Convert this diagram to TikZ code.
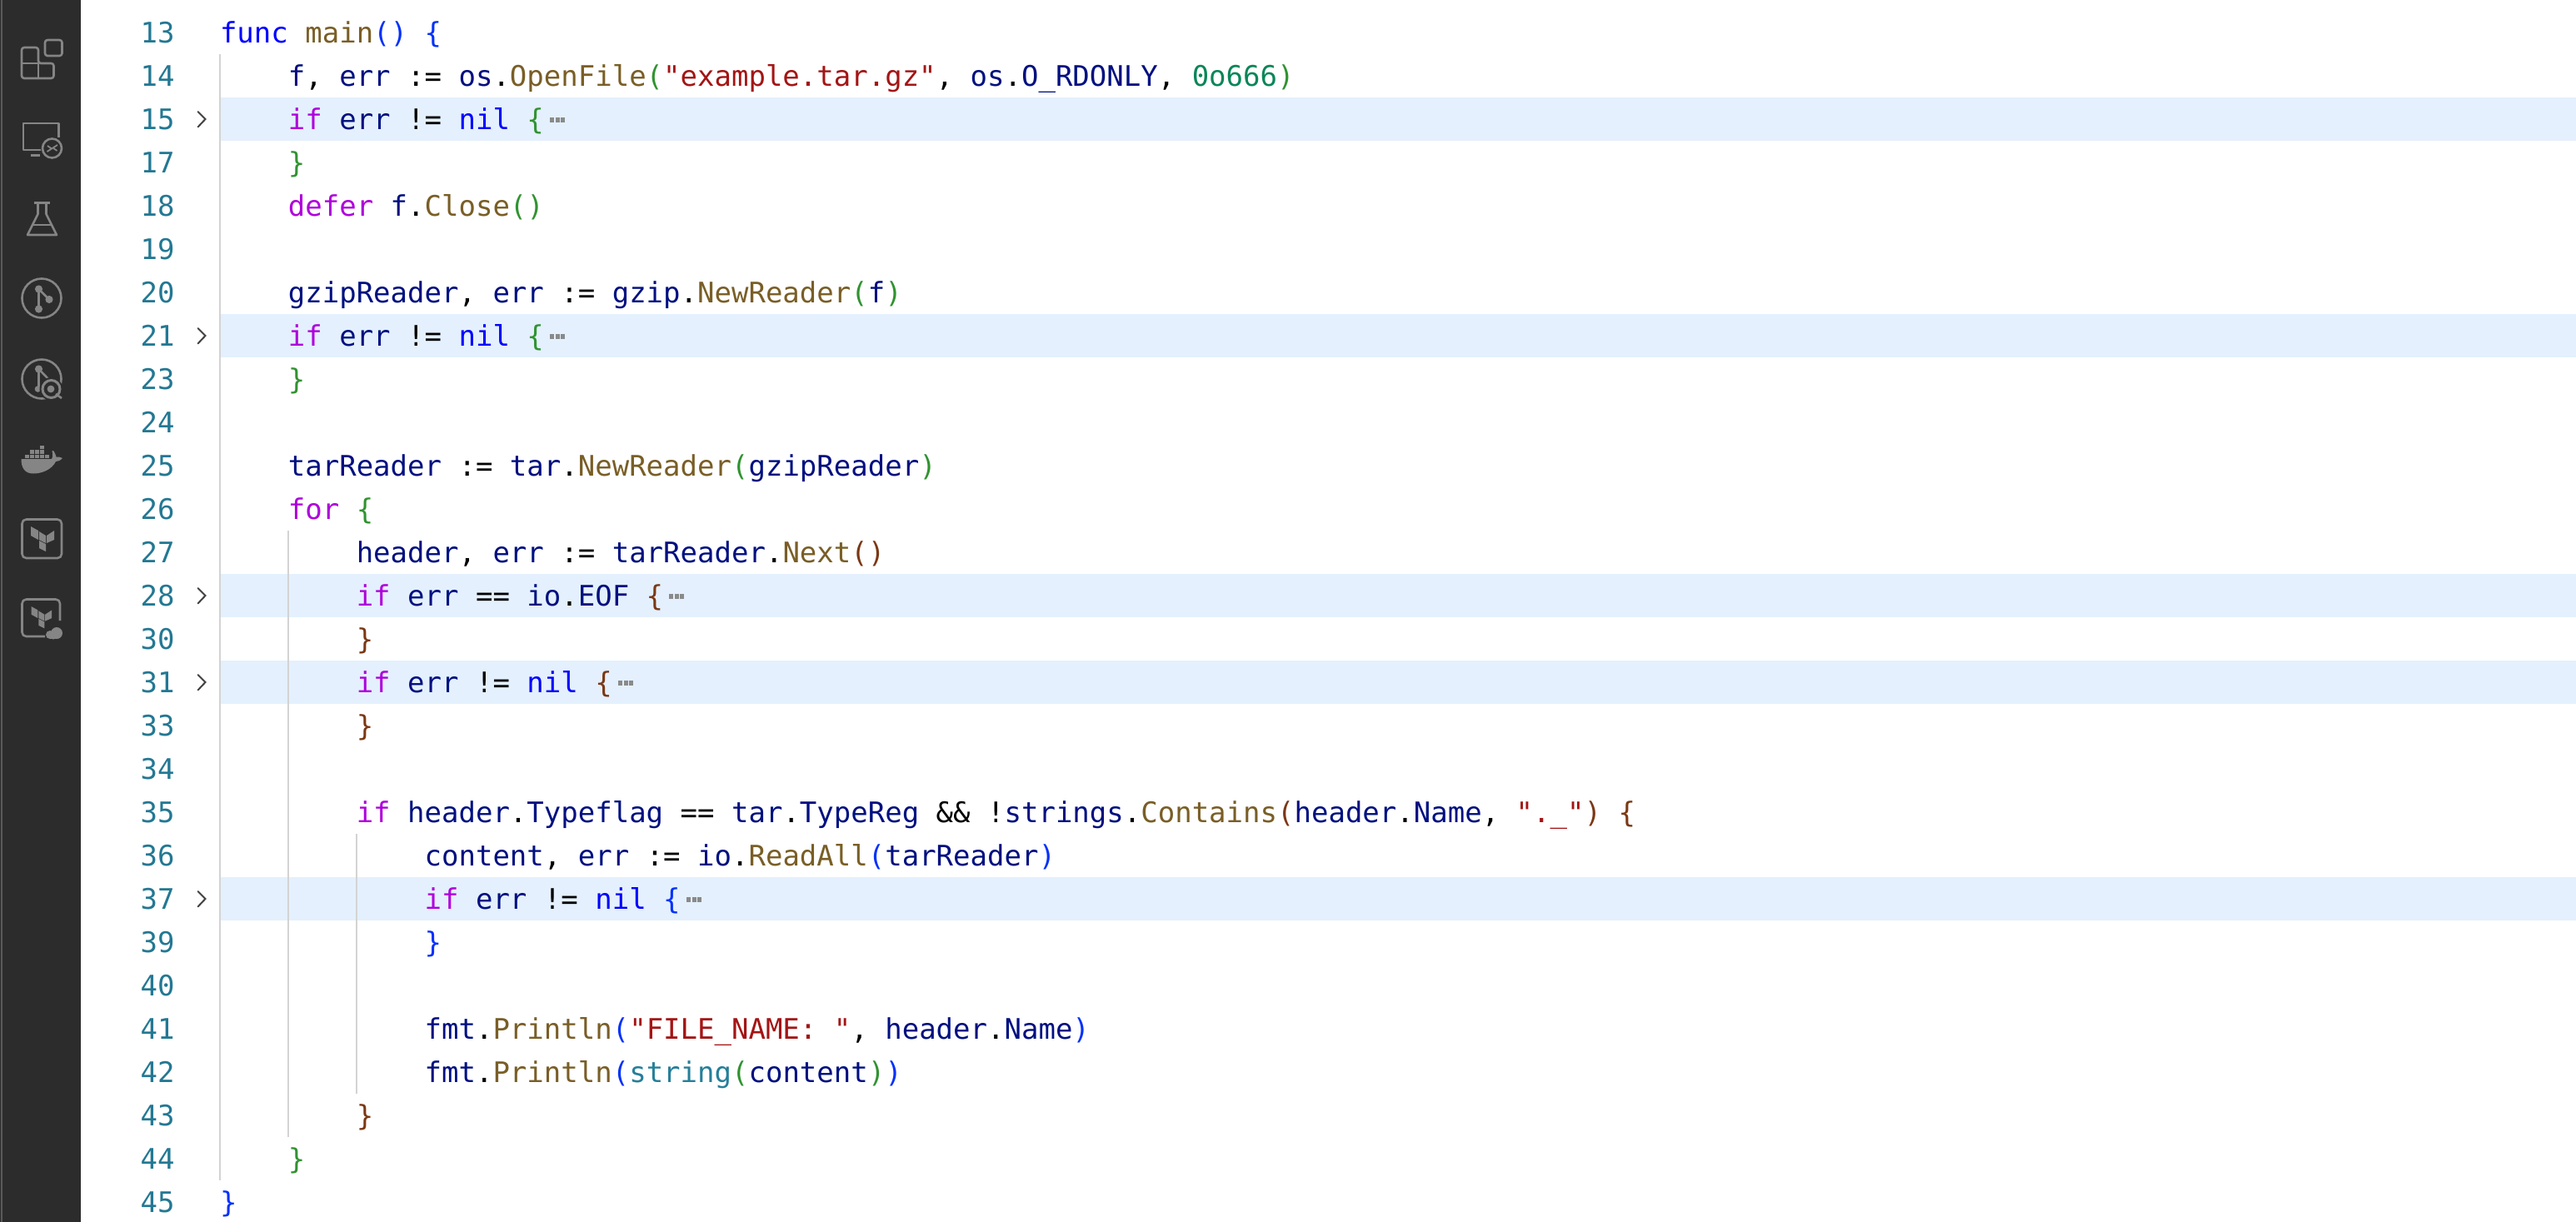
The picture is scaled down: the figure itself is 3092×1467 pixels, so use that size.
\documentclass[tikz,border=0pt]{standalone}
\usepackage{fontspec}
\newfontfamily\codefont{DejaVu Sans Mono}
\definecolor{kwblue}{HTML}{0000FF}
\definecolor{idc}{HTML}{001080}
\definecolor{fnc}{HTML}{795E26}
\definecolor{ctl}{HTML}{AF00DB}
\definecolor{strc}{HTML}{A31515}
\definecolor{numc}{HTML}{098658}
\definecolor{brA}{HTML}{0431FA}
\definecolor{brB}{HTML}{319331}
\definecolor{brC}{HTML}{7B3814}
\definecolor{typc}{HTML}{267F99}
\definecolor{gut}{HTML}{237893}
\definecolor{hl}{HTML}{E4F0FD}
\definecolor{guide}{HTML}{D3D3D3}
\definecolor{barc}{HTML}{2C2C2C}
\definecolor{stripc}{HTML}{5A5A5A}
\definecolor{iconc}{HTML}{858585}
\definecolor{chev}{HTML}{424242}
\definecolor{foldc}{HTML}{8A8A8A}
\newcommand{\Kw}[1]{\textcolor{kwblue}{#1}}
\newcommand{\Id}[1]{\textcolor{idc}{#1}}
\newcommand{\Fn}[1]{\textcolor{fnc}{#1}}
\newcommand{\Ct}[1]{\textcolor{ctl}{#1}}
\newcommand{\St}[1]{\textcolor{strc}{#1}}
\newcommand{\Nm}[1]{\textcolor{numc}{#1}}
\newcommand{\BA}[1]{\textcolor{brA}{#1}}
\newcommand{\BB}[1]{\textcolor{brB}{#1}}
\newcommand{\BC}[1]{\textcolor{brC}{#1}}
\newcommand{\Ty}[1]{\textcolor{typc}{#1}}
\newcommand{\codeline}[4]{% name, row, col, text
  \pgfmathsetmacro{\cx}{264+20.47*#3}\pgfmathsetmacro{\cy}{51+52*#2}
  \node[codetext] (c#1) at (\cx,\cy) {#4};
  \node[numtext] (n#1) at (209.5,\cy) {#1};}
\newcommand{\hlrow}[1]{\fill[hl] (264,13+52*#1) rectangle (3092,65+52*#1);}
\newcommand{\foldrow}[2]{% row index, x of fold mark
  \draw[chevline] (237.5,134+52*#1-104) -- (246.5,143+52*#1-104) -- (237.5,152.5+52*#1-104);
  \fill[foldc] (#2,141+52*#1-104) rectangle +(5,6);
  \fill[foldc] (#2+6.5,141+52*#1-104) rectangle +(5,6);
  \fill[foldc] (#2+13,141+52*#1-104) rectangle +(5,6);}
\newcommand{\tflogo}[3]{% x, y, scale
  \begin{scope}[shift={(#1,#2)},scale=#3]
  \fill[iconc] (0,0) -- (9,5) -- (9,16) -- (0,11) -- cycle;
  \fill[iconc] (10,6) -- (18,11) -- (18,20) -- (10,16) -- cycle;
  \fill[iconc] (19,11) -- (28,5) -- (28,16) -- (19,20) -- cycle;
  \fill[iconc] (10,17) -- (18,21) -- (18,30) -- (10,26) -- cycle;
  \end{scope}}
\tikzset{
  codetext/.style={anchor=base west,inner sep=0pt,outer sep=0pt,text=black,font=\codefont\fontsize{34}{40}\selectfont},
  numtext/.style={anchor=base east,inner sep=0pt,outer sep=0pt,text=gut,font=\codefont\fontsize{34}{40}\selectfont},
  guideline/.style={guide,line width=2pt},
  chevline/.style={chev,line width=2pt,line cap=round,line join=miter},
  iconline/.style={iconc,line width=2.6pt,line join=round},
}
\begin{document}
\begin{tikzpicture}[x=1pt,y=-1pt]
\useasboundingbox (0,0) rectangle (3092,1467);
\fill[white] (0,0) rectangle (3092,1467);
% sidebar
\fill[barc] (0,0) rectangle (97,1467);
\fill[stripc] (1,0) rectangle (2.8,1467);
% highlighted rows
\hlrow{2}\hlrow{7}\hlrow{13}\hlrow{15}\hlrow{20}
% indent guides
\draw[guideline] (264,65) -- (264,1417);
\draw[guideline] (346,637) -- (346,1365);
\draw[guideline] (428,1001) -- (428,1313);
% code
\codeline{13}{0}{0}{\Kw{func} \Fn{main}\BA{()} \BA{\{}}
\codeline{14}{1}{4}{\Id{f}, \Id{err} := \Id{os}.\Fn{OpenFile}\BB{(}\St{"example.tar.gz"}, \Id{os}.\Id{O\_RDONLY}, \Nm{0o666}\BB{)}}
\codeline{15}{2}{4}{\Ct{if} \Id{err} != \Kw{nil} \BB{\{}}
\codeline{17}{3}{4}{\BB{\}}}
\codeline{18}{4}{4}{\Ct{defer} \Id{f}.\Fn{Close}\BB{()}}
\codeline{19}{5}{4}{}
\codeline{20}{6}{4}{\Id{gzipReader}, \Id{err} := \Id{gzip}.\Fn{NewReader}\BB{(}\Id{f}\BB{)}}
\codeline{21}{7}{4}{\Ct{if} \Id{err} != \Kw{nil} \BB{\{}}
\codeline{23}{8}{4}{\BB{\}}}
\codeline{24}{9}{4}{}
\codeline{25}{10}{4}{\Id{tarReader} := \Id{tar}.\Fn{NewReader}\BB{(}\Id{gzipReader}\BB{)}}
\codeline{26}{11}{4}{\Ct{for} \BB{\{}}
\codeline{27}{12}{8}{\Id{header}, \Id{err} := \Id{tarReader}.\Fn{Next}\BC{()}}
\codeline{28}{13}{8}{\Ct{if} \Id{err} == \Id{io}.\Id{EOF} \BC{\{}}
\codeline{30}{14}{8}{\BC{\}}}
\codeline{31}{15}{8}{\Ct{if} \Id{err} != \Kw{nil} \BC{\{}}
\codeline{33}{16}{8}{\BC{\}}}
\codeline{34}{17}{8}{}
\codeline{35}{18}{8}{\Ct{if} \Id{header}.\Id{Typeflag} == \Id{tar}.\Id{TypeReg} \&\& !\Id{strings}.\Fn{Contains}\BC{(}\Id{header}.\Id{Name}, \St{".\_"}\BC{)} \BC{\{}}
\codeline{36}{19}{12}{\Id{content}, \Id{err} := \Id{io}.\Fn{ReadAll}\BA{(}\Id{tarReader}\BA{)}}
\codeline{37}{20}{12}{\Ct{if} \Id{err} != \Kw{nil} \BA{\{}}
\codeline{39}{21}{12}{\BA{\}}}
\codeline{40}{22}{12}{}
\codeline{41}{23}{12}{\Id{fmt}.\Fn{Println}\BA{(}\St{"FILE\_NAME: "}, \Id{header}.\Id{Name}\BA{)}}
\codeline{42}{24}{12}{\Id{fmt}.\Fn{Println}\BA{(}\Ty{string}\BB{(}\Id{content}\BB{)}\BA{)}}
\codeline{43}{25}{8}{\BC{\}}}
\codeline{44}{26}{4}{\BB{\}}}
\codeline{45}{27}{0}{\BA{\}}}
% fold chevrons and markers
\foldrow{2}{660}\foldrow{7}{660}\foldrow{13}{803}\foldrow{15}{742}\foldrow{20}{824}
% icon 1: extensions
\draw[iconline,rounded corners=3pt] (54,48) rectangle (74.5,67);
\draw[iconline,rounded corners=3pt] (26,57) -- (46,57) -- (46,76) -- (64.5,76) -- (64.5,94) -- (26,94) -- cycle;
\draw[iconline] (26,76) -- (46,76) -- (46,94);
% icon 2: remote
\draw[iconline] (70.5,165) -- (70.5,148) -- (28,148) -- (28,180) -- (50,180);
\draw[iconline] (37,186.5) -- (48,186.5);
\fill[barc] (62.5,178) circle (13.5);
\draw[iconline] (62.5,178) circle (11.5);
\draw[iconc,line width=1.8pt] (57,175) -- (62,178.5) -- (56.5,182);
\draw[iconc,line width=1.8pt] (69,174) -- (63.5,177.5) -- (68.5,181);
% icon 3: flask
\draw[iconline] (41,243.5) -- (59.5,243.5);
\draw[iconline] (45.5,243.5) -- (45.5,257) -- (33,282) -- (68,282) -- (55.5,257) -- (55.5,243.5);
\draw[iconline] (38.5,270) -- (62.5,270);
% icon 4: branch graph
\draw[iconline] (50,358) circle (23.5);
\draw[iconline] (46.5,347) -- (46.5,371);
\draw[iconline] (46.5,347) -- (59,359.5);
\fill[iconc] (46.5,347) circle (4.6) (59,359.5) circle (4.6) (46.5,371) circle (4.6);
% icon 5: branch with magnifier
\draw[iconline] (50,455) circle (23.5);
\draw[iconline] (46.5,443) -- (46.5,467);
\draw[iconline] (46.5,443) -- (60,457);
\fill[iconc] (46.5,443) circle (4.6) (45.5,467) circle (3.8);
\fill[barc] (61.5,467) circle (14);
\draw[iconc,line width=3pt] (61.5,467) circle (10.5);
\fill[iconc] (61,467) circle (4.4);
\draw[iconc,line width=2.6pt] (67,473) -- (74,478);
% icon 6: docker
\fill[iconc] (25.5,551) -- (62,551) .. controls (64,548) and (63,544) .. (62.5,541) -- (64,541) .. controls (65,542) and (67,546) .. (67.5,548.5) .. controls (70,548) and (72,548.5) .. (75,550) .. controls (72,553) and (70,554) .. (67,554) .. controls (62,564) and (50,568.5) .. (40,568.5) .. controls (30,568.5) and (25.5,562) .. (25.5,551) -- cycle;
\foreach \bx in {30,36,42,48,54} \fill[iconc] (\bx,545.5) rectangle +(5,4.6);
\foreach \bx in {36,42,48} \fill[iconc] (\bx,540) rectangle +(5,4.6);
\fill[iconc] (48,534.5) rectangle +(5,4.6);
% icon 7: terraform
\draw[iconline,rounded corners=5pt] (26.5,623.5) rectangle (74,670);
\tflogo{37}{632}{1}
% icon 8: terraform cloud
\draw[iconline,rounded corners=5pt] (72,745) -- (72,719.5) -- (26.5,719.5) -- (26.5,764) -- (54,764);
\tflogo{37.5}{728}{0.88}
\fill[iconc] (68,760) circle (7) (60,762) circle (5) (64,763) circle (4.5);
\fill[iconc] (60,761) rectangle (68,767);
\end{tikzpicture}
\end{document}
